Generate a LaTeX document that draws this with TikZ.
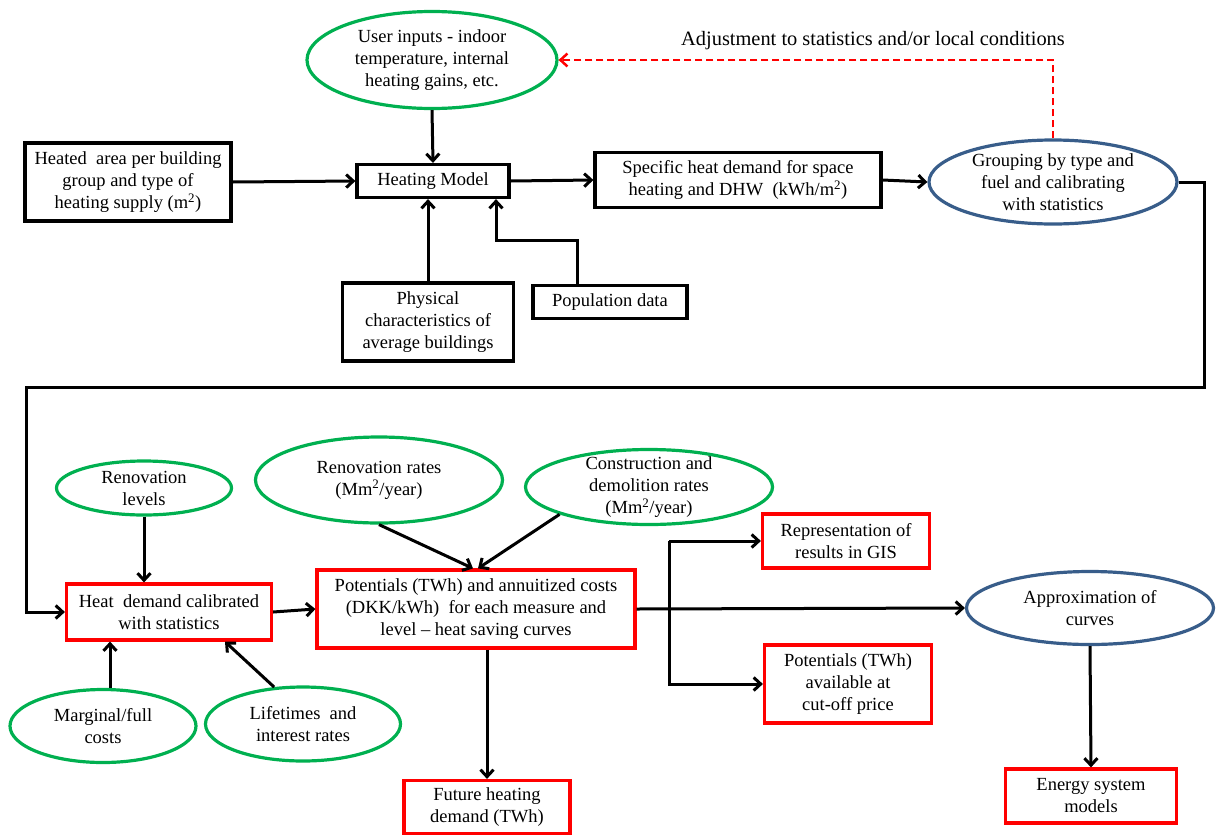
\documentclass[tikz,border=0pt]{standalone}
\usepackage{fontspec}
\setmainfont{Liberation Serif}
\usetikzlibrary{shapes.geometric,arrows.meta}
\definecolor{ovalgreen}{RGB}{0,176,80}
\definecolor{ovalblue}{RGB}{56,93,138}
\definecolor{boxred}{RGB}{255,0,0}

\begin{document}
\begin{tikzpicture}[x=1pt,y=-1pt,
  >={Straight Barb[length=7pt,width=13pt]},
  every node/.style={font=\fontsize{18.5}{22}\selectfont, align=center},
  blackbox/.style={draw, line width=3.2pt, inner sep=0pt},
  redbox/.style={draw=boxred, line width=3.2pt, inner sep=0pt},
  greenoval/.style={ellipse, draw=ovalgreen, line width=3.2pt, inner xsep=0pt, inner ysep=-8pt},
  blueoval/.style={ellipse, draw=ovalblue, line width=3.2pt, inner xsep=0pt, inner ysep=-8pt},
  flow/.style={->, line width=3pt}]
  \useasboundingbox (0,0) rectangle (1216,836);

  % upper part: heating model
  \node[greenoval, minimum width=250pt, minimum height=97pt] (user) at (432,60) {User inputs - indoor\\temperature, internal\\heating gains, etc.};
  \node[blackbox, minimum width=206pt, minimum height=78pt] (heated) at (128,182) {Heated\ \ area per building\\group and type of\\heating supply (m\textsuperscript{2})};
  \node[blackbox, minimum width=152pt, minimum height=33pt] (model) at (433,181) {Heating Model};
  \node[blackbox, minimum width=286pt, minimum height=55pt] (spec) at (738,180) {Specific heat demand for space\\heating and DHW\ \ (kWh/m\textsuperscript{2})};
  \node[blueoval, minimum width=248pt, minimum height=84pt] (group) at (1053,182) {Grouping by type and\\fuel and calibrating\\with statistics};
  \node[blackbox, minimum width=171pt, minimum height=78pt] (phys) at (428,322) {Physical\\characteristics of\\average buildings};
  \node[blackbox, minimum width=154pt, minimum height=33pt] (pop) at (610,302) {Population data};
  \node[font=\fontsize{20.4}{24}\selectfont] (adjust) at (873,41) {Adjustment to statistics and/or local conditions};

  % lower part: heat saving curves
  \node[greenoval, minimum width=175pt, minimum height=54pt] (renlev) at (144,488) {Renovation\\levels};
  \node[greenoval, minimum width=247pt, minimum height=86pt] (renrate) at (379,480) {Renovation rates\\(Mm\textsuperscript{2}/year)};
  \node[greenoval, minimum width=247pt, minimum height=75pt] (constr) at (649,487) {Construction and\\demolition rates\\(Mm\textsuperscript{2}/year)};
  \node[redbox, minimum width=205pt, minimum height=56pt] (demand) at (169,612) {Heat\ \ demand calibrated\\with statistics};
  \node[redbox, minimum width=318pt, minimum height=78pt] (pot) at (476,609) {Potentials (TWh) and annuitized costs\\(DKK/kWh)\ \ for each measure and\\level -- heat saving curves};
  \node[greenoval, minimum width=186pt, minimum height=73pt] (marg) at (103,726) {Marginal/full\\costs};
  \node[greenoval, minimum width=195pt, minimum height=74pt] (life) at (303,724) {Lifetimes\ \ and\\interest rates};
  \node[redbox, minimum width=166pt, minimum height=53pt] (future) at (487,807) {Future heating\\demand (TWh)};
  \node[redbox, minimum width=167pt, minimum height=54pt] (gis) at (846,541) {Representation of\\results in GIS};
  \node[redbox, minimum width=167pt, minimum height=78pt] (avail) at (848,684) {Potentials (TWh)\\available at\\cut-off price};
  \node[blueoval, minimum width=247pt, minimum height=73pt] (approx) at (1090,608) {Approximation of\\curves};
  \node[redbox, minimum width=171pt, minimum height=54pt] (energy) at (1091,796) {Energy system\\models};

  \coordinate (popbend) at (496,240);
  \coordinate (rturn) at (1204,387);
  \coordinate (lturn) at (26,387);
  \coordinate (branch) at (669,0);

  \draw[flow] (user.south) -- (model.north);
  \draw[flow] (heated.east) -- (model.west);
  \draw[flow] (model.east) -- (spec.west);
  \draw[flow] (spec.east) -- (group.west);
  \draw[flow] (phys.north) -- (phys.north |- model.south);
  \draw[flow] ([xshift=-33pt]pop.north) |- (popbend) -- (popbend |- model.south);
  \draw[->, boxred, line width=2.5pt, dash pattern=on 7pt off 4pt] (group.north) |- (user.east);
  \draw[flow] (group.east) -| (rturn) -- (lturn) |- (demand.west);

  \draw[flow] (renlev.south) -- (renlev.south |- demand.north);
  \draw[flow] ([xshift=7pt]marg.north) -- ([xshift=7pt]marg.north |- demand.south);
  \draw[flow] (life.128) -- ([xshift=56pt]demand.south);
  \draw[flow] (demand.east) -- (pot.west);
  \draw[flow] (renrate.south) -- ([xshift=-3pt]pot.north);
  \draw[flow] (constr.197) -- ([xshift=2pt]pot.north);
  \draw[flow] (pot.south -| future.north) -- (future.north);
  \draw[flow] (pot.east) -- (approx.west);
  \draw[flow] (branch |- gis.west) -- (gis.west);
  \draw[flow] (branch |- gis.west) |- (avail.west);
  \draw[flow] (approx.south) -- (energy.north);
\end{tikzpicture}
\end{document}
